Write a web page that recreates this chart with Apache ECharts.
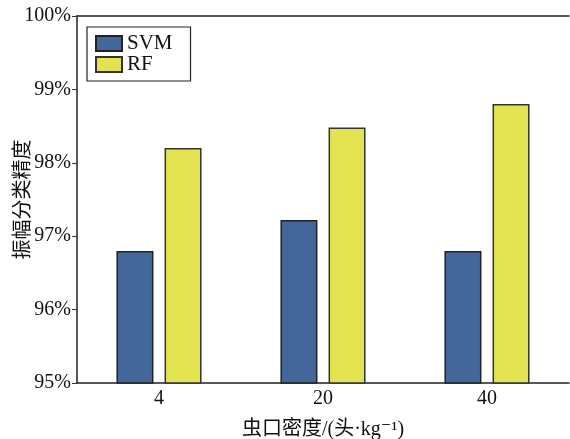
<!DOCTYPE html>
<html>
<head>
<meta charset="utf-8">
<script src="https://cdn.jsdelivr.net/npm/echarts@6/dist/echarts.min.js"></script>
<style>html,body{margin:0;padding:0;background:#fff;}#c{width:570px;height:439px;}</style>
</head>
<body>
<div id="c"></div>
<script>
const categories = ['4', '20', '40'];
const svmValues = [96.8, 97.22, 96.8];
const rfValues = [98.2, 98.48, 98.8];
const yTicks = { min: 95, max: 100, interval: 1 };

const FONT = '"Liberation Serif", "Noto Sans CJK SC", "DejaVu Serif", serif';
const chart = echarts.init(document.getElementById('c'));
chart.setOption({
  animation: false,
  backgroundColor: '#fff',
  textStyle: { fontFamily: FONT, color: '#111' },
  grid: { left: 77, top: 16, right: 1, bottom: 56, containLabel: false, outerBoundsMode: 'none' },
  legend: {
    left: 87, top: 27,
    orient: 'vertical',
    icon: 'rect',
    padding: [6, 18, 6, 8],
    itemWidth: 26, itemHeight: 15, itemGap: 0,
    borderColor: '#222', borderWidth: 1.2,
    textStyle: { fontFamily: FONT, fontSize: 21, color: '#111' },
    data: ['SVM', 'RF']
  },
  xAxis: [{
    type: 'category',
    data: categories,
    position: 'bottom',
    axisLine: { lineStyle: { color: '#222', width: 1.5 } },
    axisTick: { alignWithLabel: true, inside: true, length: 5, lineStyle: { color: '#333' } },
    axisLabel: { fontFamily: FONT, fontSize: 20, color: '#111', margin: 6 },
    name: '虫口密度/(头·kg⁻¹)',
    nameLocation: 'middle',
    nameGap: 37,
    nameMoveOverlap: false,
    nameTextStyle: { fontFamily: FONT, fontSize: 20, color: '#111' }
  }, {
    type: 'category',
    data: categories,
    position: 'top',
    axisLine: { lineStyle: { color: '#222', width: 1.5 } },
    axisTick: { show: false },
    axisLabel: { show: false }
  }],
  yAxis: {
    type: 'value',
    min: yTicks.min, max: yTicks.max, interval: yTicks.interval,
    axisLine: { show: true, lineStyle: { color: '#222', width: 1.5 } },
    axisTick: { show: true, length: 5, lineStyle: { color: '#333' } },
    splitLine: { show: false },
    axisLabel: { fontFamily: FONT, fontSize: 20, color: '#111', margin: 6, padding: [6, 0, 0, 0], formatter: '{value}%' },
    name: '振幅分类精度',
    nameLocation: 'middle',
    nameGap: 46,
    nameMoveOverlap: false,
    nameTextStyle: { fontFamily: '"Noto Sans CJK SC", sans-serif', fontSize: 20, color: '#111' }
  },
  series: [{
    name: 'SVM',
    type: 'bar',
    data: svmValues,
    barWidth: 37,
    barGap: '30%',
    itemStyle: { color: '#44679b', borderColor: '#222', borderWidth: 1.5 }
  }, {
    name: 'RF',
    type: 'bar',
    data: rfValues,
    barWidth: 37,
    barGap: '30%',
    itemStyle: { color: '#e3e352', borderColor: '#333', borderWidth: 1.5 }
  }]
});
</script>
</body>
</html>
